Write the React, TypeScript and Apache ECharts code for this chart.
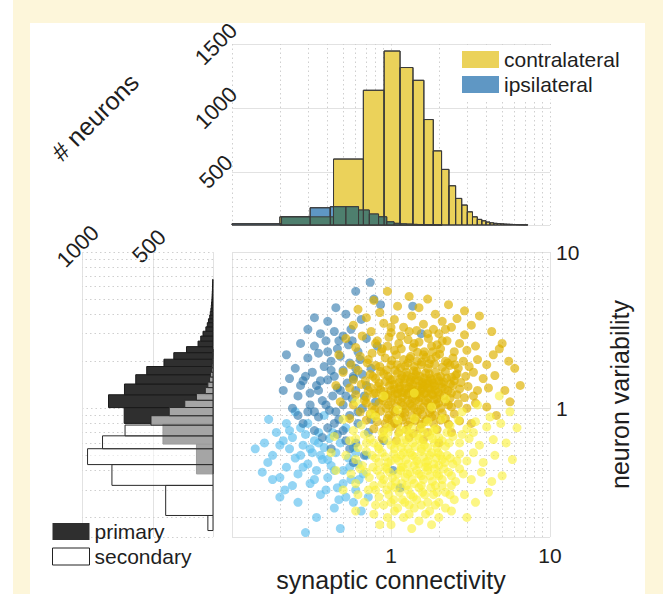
import React, { useEffect, useRef } from 'react';
import * as echarts from 'echarts';

const FONT = '"Liberation Sans", Arial, sans-serif';
const INK = '#1e1e1e';

// log-axis minor gridline positions (2..9 within each decade)
const MINOR_TICKS = [0.2, 0.3, 0.4, 0.5, 0.6, 0.7, 0.8, 0.9, 2, 3, 4, 5, 6, 7, 8, 9];

// top histogram: synaptic connectivity, bin edges + neuron counts
const CONTRA_EDGES = [0.2, 0.435, 0.67, 0.905, 1.14, 1.375, 1.61, 1.845, 2.08, 2.315, 2.55, 2.785, 3.02, 3.255, 3.49, 3.725, 3.96, 4.195, 4.43, 4.665, 4.9, 5.135, 5.37, 5.605, 5.84, 6.075, 6.31, 6.545, 6.78, 7.015, 7.25];
const CONTRA_COUNTS = [148, 600, 1138, 1445, 1316, 1216, 909, 664, 519, 391, 292, 240, 187, 148, 128, 117, 107, 101, 97, 95, 93, 91, 90, 89, 88, 87, 86, 86, 85, 85];
const IPSI_EDGES = [0.1, 0.205, 0.31, 0.415, 0.52, 0.625, 0.73, 0.835, 0.94, 1.045, 1.15, 1.255, 1.36, 1.465, 1.57, 1.675, 1.78, 1.885, 1.99, 2.095];
const IPSI_COUNTS = [94, 148, 219, 227, 227, 201, 170, 148, 109, 97, 93, 91, 89, 88, 87, 86, 85.5, 85, 84.5];

// left histogram: neuron variability, bin edges + neuron counts
const PRIMARY_EDGES = [0.38, 0.59, 0.8, 1.01, 1.22, 1.43, 1.64, 1.85, 2.06, 2.27, 2.48, 2.69, 2.9, 3.11, 3.32, 3.53, 3.74, 3.95, 4.16, 4.37, 4.58, 4.79, 5.0, 5.21, 5.42, 5.63, 5.84, 6.05, 6.26, 6.47, 6.68];
const PRIMARY_COUNTS = [197, 432, 704, 814, 702, 623, 546, 425, 356, 267, 186, 167, 151, 131, 121, 113, 104, 100, 96, 93, 91, 89, 88, 87, 86, 85, 84.5, 84, 83.5, 83];
const SECONDARY_EDGES = [0.165, 0.206, 0.321, 0.436, 0.551, 0.666, 0.781, 0.896, 1.011, 1.126, 1.241, 1.356, 1.471, 1.586, 1.701, 1.816, 1.931, 2.046, 2.161, 2.276, 2.391];
const SECONDARY_COUNTS = [117, 413, 790, 961, 856, 698, 516, 388, 279, 197, 135, 117, 105, 98, 92, 88, 86, 84, 83, 82];

// axis ranges
const TOP_COUNT_MIN = 84;
const TOP_COUNT_MAX = 1500;
const LEFT_COUNT_MIN = 81;
const LEFT_COUNT_MAX = 1000;
const CONN_MIN = 0.1;
const CONN_MAX = 10;
const VAR_MIN = 0.15;
const VAR_MAX = 10;

// scatter: [synaptic connectivity, neuron variability]
const CONTRA_PRIMARY_PTS = [
  [0.95, 5.6], [1.3, 5.2], [0.78, 4.9], [1.7, 5.0], [2.3, 4.6], [1.1, 4.5], [0.62, 4.3], [1.5, 4.4], [2.9, 4.2], [0.85, 4.1], [1.9, 4.0], [3.6, 3.9],
  [0.7, 3.8], [1.05, 3.7], [1.35, 3.9], [2.1, 3.6], [2.6, 3.75], [0.58, 3.4], [0.9, 3.5], [1.2, 3.3], [1.6, 3.45], [1.85, 3.2], [2.4, 3.3], [3.2, 3.4], [4.3, 3.1], [0.75, 3.1], [1.0, 3.05], [1.45, 3.15], [2.0, 3.0], [2.9, 2.95],
  [0.52, 2.8], [0.66, 2.9], [0.82, 2.7], [0.97, 2.85], [1.12, 2.6], [1.28, 2.75], [1.5, 2.65], [1.72, 2.8], [1.95, 2.55], [2.25, 2.7], [2.7, 2.6], [3.4, 2.5], [4.8, 2.4], [0.6, 2.45], [0.88, 2.4], [1.05, 2.35], [1.38, 2.45], [1.62, 2.3], [2.05, 2.4], [2.5, 2.3], [3.0, 2.35],
  [0.47, 2.2], [0.64, 2.15], [0.76, 2.25], [0.92, 2.1], [1.08, 2.2], [1.2, 2.05], [1.33, 2.15], [1.46, 2.0], [1.6, 2.2], [1.78, 2.05], [1.92, 2.15], [2.2, 2.0], [2.45, 2.1], [2.85, 2.0], [3.5, 2.05], [4.0, 1.9], [5.5, 2.0], [0.56, 1.9], [0.71, 1.95], [0.85, 1.85], [1.0, 1.9], [1.15, 1.82], [1.28, 1.95], [1.4, 1.85], [1.55, 1.9], [1.7, 1.8], [1.88, 1.92], [2.1, 1.83], [2.35, 1.88], [2.65, 1.8], [3.1, 1.85],
  [0.5, 1.7], [0.62, 1.75], [0.74, 1.65], [0.86, 1.72], [0.96, 1.6], [1.06, 1.75], [1.17, 1.62], [1.25, 1.7], [1.35, 1.58], [1.45, 1.72], [1.52, 1.6], [1.65, 1.68], [1.77, 1.55], [1.9, 1.7], [2.05, 1.6], [2.2, 1.72], [2.4, 1.58], [2.6, 1.66], [2.95, 1.6], [3.3, 1.7], [3.8, 1.55], [4.5, 1.62], [0.58, 1.52], [0.69, 1.5], [0.8, 1.55], [0.92, 1.48], [1.02, 1.52], [1.12, 1.46], [1.22, 1.54], [1.32, 1.47], [1.42, 1.52], [1.58, 1.46], [1.7, 1.5], [1.84, 1.45], [2.0, 1.5], [2.15, 1.47], [2.5, 1.5], [2.75, 1.46],
  [0.45, 1.4], [0.55, 1.35], [0.65, 1.42], [0.72, 1.3], [0.83, 1.38], [0.9, 1.28], [0.98, 1.4], [1.05, 1.32], [1.14, 1.38], [1.2, 1.26], [1.3, 1.36], [1.38, 1.28], [1.48, 1.38], [1.55, 1.3], [1.63, 1.4], [1.75, 1.32], [1.86, 1.38], [1.98, 1.27], [2.1, 1.36], [2.28, 1.3], [2.45, 1.4], [2.7, 1.33], [3.05, 1.38], [3.5, 1.3], [4.1, 1.35], [5.2, 1.3], [0.6, 1.22], [0.7, 1.18], [0.78, 1.24], [0.88, 1.17], [0.95, 1.22], [1.03, 1.16], [1.1, 1.24], [1.18, 1.17], [1.27, 1.22], [1.36, 1.15], [1.45, 1.23], [1.53, 1.17], [1.62, 1.24], [1.72, 1.16], [1.83, 1.22], [1.95, 1.15], [2.15, 1.2], [2.35, 1.16], [2.6, 1.22], [2.9, 1.17], [3.3, 1.2],
  [0.48, 1.1], [0.58, 1.05], [0.68, 1.12], [0.76, 1.02], [0.84, 1.08], [0.93, 1.0], [1.0, 1.1], [1.08, 1.03], [1.16, 1.09], [1.24, 0.99], [1.32, 1.07], [1.4, 1.0], [1.5, 1.1], [1.6, 1.02], [1.7, 1.08], [1.8, 0.98], [1.92, 1.06], [2.05, 1.0], [2.2, 1.1], [2.4, 1.02], [2.65, 1.07], [3.0, 1.0], [3.4, 1.08], [4.0, 1.02], [0.64, 0.95], [0.74, 0.92], [0.86, 0.96], [0.97, 0.9], [1.06, 0.95], [1.14, 0.91], [1.22, 0.94], [1.35, 0.9], [1.47, 0.95], [1.58, 0.91], [1.75, 0.94], [1.9, 0.9], [2.1, 0.93], [2.5, 0.92],
  [0.55, 0.86], [0.7, 0.84], [0.82, 0.82], [0.95, 0.86], [1.05, 0.8], [1.18, 0.84], [1.28, 0.78], [1.42, 0.83], [1.55, 0.79], [1.68, 0.85], [1.85, 0.8], [2.05, 0.84], [2.3, 0.79], [2.7, 0.83], [3.2, 0.8], [0.78, 0.74], [0.9, 0.72], [1.0, 0.76], [1.12, 0.7], [1.25, 0.73], [1.38, 0.69], [1.52, 0.74], [1.7, 0.7], [1.95, 0.73], [2.4, 0.7], [0.88, 0.64], [1.08, 0.62], [1.3, 0.65], [1.6, 0.63], [2.0, 0.6],
  [5.0, 2.6], [6.0, 1.8], [5.6, 1.1], [4.6, 0.9], [6.5, 1.4], [4.4, 2.2],
  [0.72, 2.05], [0.8, 1.88], [0.87, 2.3], [0.94, 1.76], [1.01, 2.02], [1.09, 1.9], [1.16, 2.4], [1.23, 1.86], [1.31, 2.08], [1.39, 1.74], [1.47, 2.28], [1.56, 1.98], [1.66, 2.12], [1.74, 1.93], [1.83, 2.3], [2.02, 2.22], [2.27, 1.95], [2.52, 1.9],
  [0.77, 1.6], [0.84, 1.45], [0.9, 1.66], [0.99, 1.53], [1.04, 1.42], [1.1, 1.68], [1.15, 1.55], [1.21, 1.44], [1.26, 1.62], [1.33, 1.52], [1.37, 1.41], [1.43, 1.64], [1.5, 1.5], [1.57, 1.42], [1.61, 1.56], [1.68, 1.44], [1.74, 1.66], [1.81, 1.52], [1.89, 1.4], [1.96, 1.58], [2.08, 1.44], [2.24, 1.56], [2.36, 1.43], [2.55, 1.62],
  [0.74, 1.36], [0.8, 1.25], [0.86, 1.32], [0.93, 1.2], [1.0, 1.3], [1.06, 1.24], [1.12, 1.33], [1.17, 1.27], [1.23, 1.34], [1.29, 1.25], [1.34, 1.33], [1.41, 1.21], [1.46, 1.31], [1.51, 1.24], [1.58, 1.34], [1.66, 1.26], [1.71, 1.35], [1.79, 1.24], [1.9, 1.3], [2.02, 1.22], [2.18, 1.33], [2.4, 1.25],
  [0.7, 1.08], [0.79, 0.98], [0.89, 1.12], [0.96, 1.05], [1.03, 0.97], [1.11, 1.13], [1.19, 1.04], [1.27, 1.12], [1.35, 1.03], [1.43, 1.13], [1.53, 0.98], [1.64, 1.12], [1.76, 1.03], [1.86, 1.13], [1.99, 1.08], [2.3, 1.05],
  [0.8, 0.9], [0.92, 0.8], [1.01, 0.86], [1.1, 0.79], [1.2, 0.88], [1.32, 0.82], [1.45, 0.88], [1.63, 0.82], [1.8, 0.88], [2.2, 0.86],
  [0.8, 2.6], [0.95, 2.5], [1.15, 2.9], [1.4, 2.6], [1.8, 2.5], [2.1, 2.7], [1.0, 3.3], [1.3, 3.1], [1.7, 3.0], [2.2, 3.2],
];

const CONTRA_SECONDARY_PTS = [
  [0.6, 1.1], [0.9, 1.2], [1.4, 1.25], [2.2, 1.15], [3.5, 1.05], [4.8, 1.2], [1.1, 0.98], [1.8, 1.02], [2.8, 0.95], [0.75, 0.92], [5.6, 0.95], [4.2, 0.88],
  [0.5, 0.85], [0.65, 0.78], [0.8, 0.88], [0.95, 0.75], [1.1, 0.84], [1.25, 0.72], [1.4, 0.86], [1.55, 0.76], [1.7, 0.82], [1.9, 0.74], [2.1, 0.86], [2.35, 0.77], [2.65, 0.84], [3.0, 0.74], [3.4, 0.82], [4.0, 0.76], [4.9, 0.8], [6.2, 0.75], [0.58, 0.72], [0.88, 0.7],
  [0.44, 0.66], [0.55, 0.62], [0.68, 0.68], [0.78, 0.6], [0.9, 0.66], [1.0, 0.58], [1.12, 0.67], [1.2, 0.6], [1.32, 0.68], [1.42, 0.57], [1.5, 0.64], [1.62, 0.58], [1.75, 0.67], [1.88, 0.6], [2.0, 0.65], [2.2, 0.57], [2.45, 0.66], [2.7, 0.6], [3.1, 0.64], [3.6, 0.58], [4.4, 0.63], [5.3, 0.6], [0.62, 0.56], [0.84, 0.55], [1.05, 0.55], [1.28, 0.55], [1.55, 0.55],
  [0.42, 0.52], [0.52, 0.5], [0.6, 0.47], [0.7, 0.53], [0.8, 0.48], [0.88, 0.52], [0.96, 0.45], [1.04, 0.51], [1.12, 0.46], [1.2, 0.52], [1.28, 0.44], [1.36, 0.5], [1.45, 0.46], [1.55, 0.53], [1.65, 0.45], [1.75, 0.5], [1.86, 0.44], [1.98, 0.52], [2.1, 0.47], [2.25, 0.5], [2.45, 0.44], [2.7, 0.51], [3.0, 0.46], [3.3, 0.52], [3.8, 0.45], [4.5, 0.5], [5.8, 0.47], [0.66, 0.43], [0.92, 0.42], [1.16, 0.42], [1.4, 0.43], [1.7, 0.42], [2.0, 0.43],
  [0.45, 0.4], [0.56, 0.38], [0.64, 0.41], [0.73, 0.36], [0.82, 0.4], [0.9, 0.35], [0.98, 0.39], [1.07, 0.34], [1.15, 0.4], [1.23, 0.36], [1.32, 0.39], [1.4, 0.33], [1.5, 0.38], [1.6, 0.35], [1.7, 0.4], [1.82, 0.34], [1.95, 0.38], [2.1, 0.35], [2.3, 0.39], [2.55, 0.34], [2.85, 0.38], [3.2, 0.35], [3.7, 0.39], [4.3, 0.34], [5.0, 0.37], [0.6, 0.33], [0.78, 0.32], [1.0, 0.32], [1.25, 0.32], [1.55, 0.32], [1.9, 0.32], [2.4, 0.32],
  [0.5, 0.3], [0.62, 0.28], [0.72, 0.3], [0.84, 0.27], [0.94, 0.3], [1.04, 0.26], [1.13, 0.29], [1.22, 0.25], [1.33, 0.28], [1.45, 0.26], [1.58, 0.29], [1.7, 0.25], [1.85, 0.28], [2.0, 0.25], [2.2, 0.29], [2.5, 0.26], [2.9, 0.28], [3.4, 0.25], [4.1, 0.29], [0.68, 0.25], [0.9, 0.24], [1.1, 0.23], [1.4, 0.23], [1.75, 0.22],
  [0.6, 0.22], [0.78, 0.21], [0.95, 0.2], [1.05, 0.22], [1.2, 0.2], [1.3, 0.21], [1.5, 0.19], [1.65, 0.21], [2.0, 0.2], [2.4, 0.22], [3.0, 0.2], [1.0, 0.18], [1.35, 0.17], [1.8, 0.18], [0.85, 0.18],
  [0.74, 0.64], [0.83, 0.57], [0.95, 0.62], [1.08, 0.6], [1.16, 0.56], [1.25, 0.63], [1.37, 0.6], [1.46, 0.67], [1.57, 0.61], [1.7, 0.56], [1.82, 0.64], [1.95, 0.56], [2.1, 0.62], [2.32, 0.6],
  [0.76, 0.5], [0.84, 0.45], [0.92, 0.49], [1.0, 0.46], [1.08, 0.48], [1.16, 0.5], [1.24, 0.47], [1.32, 0.52], [1.41, 0.49], [1.5, 0.44], [1.6, 0.49], [1.7, 0.46], [1.8, 0.52], [1.92, 0.48], [2.04, 0.5], [2.18, 0.45], [2.36, 0.48], [2.6, 0.46],
  [0.7, 0.39], [0.77, 0.42], [0.86, 0.37], [0.94, 0.41], [1.02, 0.36], [1.1, 0.38], [1.19, 0.42], [1.27, 0.38], [1.36, 0.35], [1.45, 0.4], [1.55, 0.37], [1.65, 0.42], [1.76, 0.37], [1.88, 0.41], [2.0, 0.37], [2.15, 0.41], [2.4, 0.37], [2.7, 0.41],
  [0.8, 0.3], [0.88, 0.33], [0.97, 0.28], [1.06, 0.31], [1.17, 0.33], [1.28, 0.3], [1.38, 0.27], [1.5, 0.31], [1.63, 0.28], [1.78, 0.31], [1.95, 0.29], [2.1, 0.32], [2.35, 0.28],
  [0.8, 0.24], [1.0, 0.25], [1.18, 0.26], [1.3, 0.24], [1.55, 0.24], [1.9, 0.24], [2.2, 0.23],
  [0.96, 0.7], [1.15, 0.73], [1.35, 0.75], [1.6, 0.7], [1.85, 0.72], [2.25, 0.7], [2.8, 0.68], [3.3, 0.7], [0.7, 0.6], [0.6, 0.64],
];

const IPSI_PRIMARY_PTS = [
  [0.74, 6.4], [0.6, 5.6], [0.78, 5.0], [0.86, 4.6], [1.37, 4.5], [0.45, 4.4], [0.52, 4.0], [0.33, 3.8], [0.4, 3.6], [0.65, 3.7], [1.55, 3.0], [0.3, 3.2], [0.36, 3.0], [0.44, 3.1], [0.5, 2.9], [0.56, 3.2], [0.7, 2.8],
  [0.27, 2.6], [0.33, 2.5], [0.39, 2.7], [0.46, 2.4], [0.54, 2.55], [0.62, 2.3], [0.82, 2.5], [0.22, 2.2], [0.3, 2.1], [0.35, 2.25], [0.42, 2.0], [0.48, 2.15], [0.55, 1.95], [0.64, 2.05], [0.75, 1.8],
  [0.25, 1.8], [0.32, 1.7], [0.38, 1.85], [0.44, 1.6], [0.5, 1.75], [0.58, 1.55], [0.66, 1.65], [0.28, 1.5], [0.34, 1.4], [0.4, 1.52], [0.46, 1.35], [0.53, 1.45], [0.6, 1.3], [0.7, 1.4],
  [0.21, 1.3], [0.26, 1.2], [0.31, 1.25], [0.37, 1.12], [0.43, 1.2], [0.5, 1.05], [0.57, 1.15], [0.66, 1.0], [0.8, 1.1], [0.24, 1.0], [0.3, 0.95], [0.35, 0.88], [0.41, 0.97], [0.47, 0.85], [0.55, 0.9], [0.62, 0.8], [0.75, 0.85],
  [0.28, 0.8], [0.33, 0.72], [0.4, 0.75], [0.46, 0.68], [0.52, 0.62], [0.6, 0.6], [0.42, 0.55], [0.68, 0.5], [0.9, 0.62], [0.58, 0.45], [1.03, 0.4], [1.14, 0.31],
  [0.29, 1.6], [0.36, 1.5], [0.42, 1.75], [0.48, 1.3], [0.35, 1.3], [0.39, 1.05], [0.45, 0.95], [0.52, 1.2], [0.31, 1.05], [0.27, 1.4], [0.23, 1.55], [0.4, 2.3], [0.47, 2.7], [0.57, 2.7], [0.6, 1.8], [0.68, 1.2], [0.44, 0.8], [0.5, 0.72], [0.37, 0.65], [0.55, 0.55], [0.72, 0.7], [0.26, 0.9], [0.33, 0.95], [0.62, 0.95], [0.58, 1.6],
];

const IPSI_SECONDARY_PTS = [
  [0.14, 0.55], [0.155, 0.39], [0.168, 0.45], [0.16, 0.6], [0.18, 0.5], [0.19, 0.7], [0.2, 0.36], [0.2, 0.27], [0.215, 0.3], [0.22, 0.42], [0.23, 0.55], [0.24, 0.65], [0.25, 0.48], [0.26, 0.38], [0.27, 0.75], [0.28, 0.58], [0.29, 0.16], [0.3, 0.44],
  [0.31, 0.33], [0.32, 0.52], [0.33, 0.62], [0.34, 0.4], [0.35, 0.7], [0.36, 0.28], [0.37, 0.47], [0.38, 0.56], [0.4, 0.36], [0.41, 0.64], [0.42, 0.43], [0.44, 0.23], [0.45, 0.52], [0.46, 0.31], [0.48, 0.17], [0.48, 0.6], [0.5, 0.4],
  [0.52, 0.27], [0.54, 0.48], [0.56, 0.35], [0.58, 0.56], [0.6, 0.3], [0.62, 0.44], [0.65, 0.22], [0.67, 0.38], [0.7, 0.5], [0.72, 0.27], [0.3, 0.8], [0.22, 0.8], [0.25, 0.95], [0.17, 0.85], [0.38, 0.9], [0.21, 0.62], [0.27, 0.5], [0.33, 0.35], [0.43, 0.7], [0.52, 0.75],
  [0.18, 0.35], [0.24, 0.32], [0.28, 0.42], [0.31, 0.55], [0.36, 0.5], [0.4, 0.47], [0.44, 0.4], [0.5, 0.33], [0.55, 0.42], [0.6, 0.52], [0.35, 0.6], [0.29, 0.68], [0.23, 0.72], [0.2, 0.58], [0.39, 0.3], [0.47, 0.26], [0.26, 0.25], [0.34, 0.2], [0.58, 0.25], [0.63, 0.35],
];

const YELLOW = '#ebd25a';
const BLUE = '#5f97c4';
const OVERLAP = '#4e7f6e';
const EDGE = '#3a3a3a';
const PRIMARY_FILL = '#2f2f2f';

const toBins = (edges: number[], counts: number[]) => counts.map((c, i) => [edges[i], edges[i + 1], c]);

// region where both top histograms are present
function overlapBins(a: number[][], b: number[][]) {
  const out: number[][] = [];
  for (const p of a) {
    for (const q of b) {
      const lo = Math.max(p[0], q[0]);
      const hi = Math.min(p[1], q[1]);
      if (hi > lo) out.push([lo, hi, Math.min(p[2], q[2])]);
    }
  }
  return out;
}

const vBar = (fill: string, stroke: string, lineWidth: number) => (_: any, api: any) => {
  const a = api.coord([api.value(0), api.value(2)]);
  const b = api.coord([api.value(1), TOP_COUNT_MIN]);
  return {
    type: 'rect',
    shape: { x: a[0], y: a[1], width: b[0] - a[0], height: b[1] - a[1] },
    style: { fill, stroke, lineWidth },
  };
};

const hBar = (fill: string, stroke: string) => (_: any, api: any) => {
  const a = api.coord([api.value(2), api.value(1)]);
  const b = api.coord([LEFT_COUNT_MIN, api.value(0)]);
  return {
    type: 'rect',
    shape: { x: a[0], y: a[1], width: b[0] - a[0], height: b[1] - a[1] },
    style: { fill, stroke, lineWidth: 1 },
  };
};

const dotted = { color: '#cfcfcf', width: 1, type: [1.5, 3] };
const solid = { color: '#e2e2e2', width: 1 };

const minorGrid = (xi: number, yi: number, lines: any[]) => ({
  type: 'scatter',
  xAxisIndex: xi,
  yAxisIndex: yi,
  data: [],
  silent: true,
  markLine: {
    silent: true,
    z: 1,
    animation: false,
    symbol: ['none', 'none'],
    label: { show: false },
    lineStyle: dotted,
    data: lines,
  },
});

const logLabel = (v: number) => (Math.abs(v - 1) < 1e-6 ? '1' : Math.abs(v - 10) < 1e-6 ? '10' : '');

export default function App() {
  const ref = useRef<HTMLDivElement>(null);

  useEffect(() => {
    if (!ref.current) return;
    const chart = echarts.init(ref.current, undefined, { renderer: 'svg' });

    const contraBins = toBins(CONTRA_EDGES, CONTRA_COUNTS);
    const ipsiBins = toBins(IPSI_EDGES, IPSI_COUNTS);
    const bothBins = overlapBins(contraBins, ipsiBins);
    const primaryBins = toBins(PRIMARY_EDGES, PRIMARY_COUNTS);
    const secondaryBins = toBins(SECONDARY_EDGES, SECONDARY_COUNTS);

    const vLines = MINOR_TICKS.map((v) => ({ xAxis: v }));
    const hLines = MINOR_TICKS.filter((v) => v > VAR_MIN).map((v) => ({ yAxis: v }));

    const hidden = { show: false };
    const scatter = (name: string, data: number[][], color: string, opacity: number) => ({
      type: 'scatter', name, xAxisIndex: 2, yAxisIndex: 2, silent: true,
      data, symbolSize: 9, itemStyle: { color, opacity },
    });

    chart.setOption({
      animation: false,
      textStyle: { fontFamily: FONT, color: INK },
      grid: [
        { left: 232, top: 44, width: 318, height: 181 },
        { left: 82, top: 252, width: 131, height: 285 },
        { left: 232, top: 252, width: 318, height: 285 },
      ],
      xAxis: [
        {
          gridIndex: 0, type: 'log', min: CONN_MIN, max: CONN_MAX,
          axisLine: hidden, axisTick: hidden, axisLabel: hidden,
          splitLine: { show: true, lineStyle: dotted },
        },
        {
          gridIndex: 1, type: 'value', inverse: true, position: 'top',
          min: LEFT_COUNT_MIN, max: LEFT_COUNT_MAX, splitNumber: 2,
          axisLine: hidden, axisTick: hidden,
          axisLabel: {
            rotate: -45, align: 'center', verticalAlign: 'middle', margin: 10,
            fontSize: 22, color: INK, showMaxLabel: true, padding: [0, 12, 0, 0],
            formatter: (v: number) => (v >= 500 ? String(v) : ''),
          },
          splitLine: { show: true, lineStyle: solid },
        },
        {
          gridIndex: 2, type: 'log', min: CONN_MIN, max: CONN_MAX,
          axisLine: hidden, axisTick: hidden,
          axisLabel: { fontSize: 21, color: INK, margin: 8, showMaxLabel: true, formatter: logLabel },
          splitLine: { show: true, lineStyle: solid },
          name: 'synaptic connectivity', nameLocation: 'middle', nameGap: 30,
          nameTextStyle: { fontSize: 25, color: INK },
        },
      ],
      yAxis: [
        {
          gridIndex: 0, type: 'value', min: TOP_COUNT_MIN, max: TOP_COUNT_MAX, splitNumber: 3,
          axisLine: hidden, axisTick: hidden,
          axisLabel: {
            rotate: 45, align: 'center', verticalAlign: 'middle', margin: 16,
            fontSize: 22, color: INK, showMaxLabel: true,
            formatter: (v: number) => (v >= 500 ? String(v) : ''),
          },
          splitLine: { show: true, lineStyle: solid },
        },
        {
          gridIndex: 1, type: 'log', min: VAR_MIN, max: VAR_MAX,
          axisLine: hidden, axisTick: hidden, axisLabel: hidden,
          splitLine: { show: true, lineStyle: dotted },
        },
        {
          gridIndex: 2, type: 'log', min: VAR_MIN, max: VAR_MAX, position: 'right',
          axisLine: hidden, axisTick: hidden,
          axisLabel: { fontSize: 21, color: INK, margin: 6, showMaxLabel: true, formatter: logLabel },
          splitLine: { show: true, lineStyle: solid },
          name: 'neuron variability', nameLocation: 'middle', nameGap: 57,
          nameTextStyle: { fontSize: 25, color: INK },
        },
      ],
      legend: [
        {
          data: [
            { name: 'contralateral', icon: 'rect', itemStyle: { color: YELLOW } },
            { name: 'ipsilateral', icon: 'rect', itemStyle: { color: BLUE } },
          ],
          orient: 'vertical', left: 458, top: 45, padding: [4, 6, 4, 4],
          itemWidth: 37, itemHeight: 17, itemGap: 4, selectedMode: false,
          backgroundColor: '#ffffff',
          textStyle: { fontSize: 21, color: INK, fontFamily: FONT },
        },
        {
          data: [
            { name: 'primary', icon: 'rect', itemStyle: { color: PRIMARY_FILL } },
            { name: 'secondary', icon: 'rect', itemStyle: { color: '#ffffff', borderColor: '#222', borderWidth: 1 } },
          ],
          orient: 'vertical', left: 48, top: 517, padding: 4,
          itemWidth: 37, itemHeight: 17, itemGap: 4, selectedMode: false,
          textStyle: { fontSize: 21, color: INK, fontFamily: FONT },
        },
      ],
      graphic: [
        {
          type: 'text', x: 95, y: 117, rotation: Math.PI / 4, silent: true,
          style: { text: '# neurons', fontSize: 25, fontFamily: FONT, fill: INK, align: 'center', verticalAlign: 'middle' },
        },
      ],
      series: [
        minorGrid(0, 0, vLines),
        {
          type: 'custom', name: 'contralateral', xAxisIndex: 0, yAxisIndex: 0, silent: true,
          data: contraBins, encode: { x: [0, 1], y: 2 }, itemStyle: { color: YELLOW },
          renderItem: vBar(YELLOW, EDGE, 1),
        },
        {
          type: 'custom', name: 'ipsilateral', xAxisIndex: 0, yAxisIndex: 0, silent: true,
          data: ipsiBins, encode: { x: [0, 1], y: 2 }, itemStyle: { color: BLUE },
          renderItem: vBar(BLUE, EDGE, 1),
        },
        {
          type: 'custom', name: 'both', xAxisIndex: 0, yAxisIndex: 0, silent: true,
          data: bothBins, encode: { x: [0, 1], y: 2 },
          renderItem: vBar(OVERLAP, 'none', 0),
        },
        {
          type: 'custom', name: 'edges', xAxisIndex: 0, yAxisIndex: 0, silent: true,
          data: contraBins.concat(ipsiBins), encode: { x: [0, 1], y: 2 },
          renderItem: vBar('none', EDGE, 1),
        },

        minorGrid(1, 1, hLines),
        {
          type: 'custom', name: 'primary', xAxisIndex: 1, yAxisIndex: 1, silent: true,
          data: primaryBins, encode: { x: 2, y: [0, 1] }, itemStyle: { color: PRIMARY_FILL },
          renderItem: hBar(PRIMARY_FILL, '#1a1a1a'),
        },
        {
          type: 'custom', name: 'secondary', xAxisIndex: 1, yAxisIndex: 1, silent: true,
          data: secondaryBins, encode: { x: 2, y: [0, 1] }, itemStyle: { color: '#ffffff' },
          renderItem: hBar('rgba(255,255,255,0.57)', '#2a2a2a'),
        },

        minorGrid(2, 2, vLines.concat(hLines as any)),
        scatter('ipsilateral secondary', IPSI_SECONDARY_PTS, '#5bbfee', 0.65),
        scatter('ipsilateral primary', IPSI_PRIMARY_PTS, '#2a75aa', 0.6),
        scatter('contralateral primary', CONTRA_PRIMARY_PTS, '#dfb300', 0.68),
        scatter('contralateral secondary', CONTRA_SECONDARY_PTS, '#faf03a', 0.62),
      ],
    });

    return () => chart.dispose();
  }, []);

  return (
    <div style={{ position: 'fixed', left: 0, top: 0, width: 663, height: 594, background: '#ffffff' }}>
      <div style={{ position: 'absolute', left: 13, top: 0, width: 650, height: 594, background: '#fdf6da' }} />
      <div style={{ position: 'absolute', left: 30, top: 23, width: 615, height: 571, background: '#ffffff' }} />
      <div ref={ref} style={{ position: 'absolute', left: 0, top: 0, width: 663, height: 594 }} />
    </div>
  );
}
